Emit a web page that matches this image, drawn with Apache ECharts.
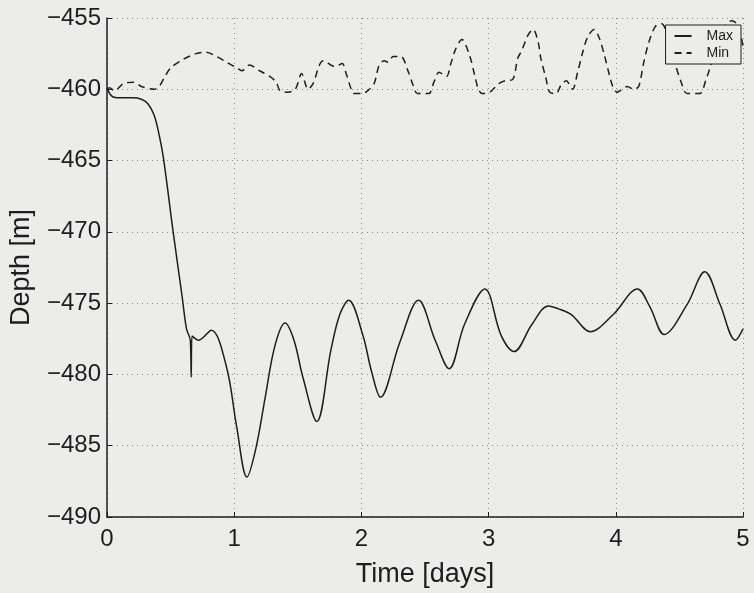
<!DOCTYPE html>
<html>
<head>
<meta charset="utf-8">
<script src="https://cdn.jsdelivr.net/npm/echarts@6/dist/echarts.min.js"></script>
<style>
html,body{margin:0;padding:0;background:#ececea;}
#chart{width:754px;height:593px;}
</style>
</head>
<body>
<div id="chart"></div>
<script>
// ---- data ----
const xTicks = [0, 1, 2, 3, 4, 5];
const yTicks = [-490, -485, -480, -475, -470, -465, -460, -455];
const seriesNames = ['Max', 'Min'];

const maxTime = [0, 0.04, 0.1, 0.2, 0.27, 0.32, 0.37, 0.41, 0.445, 0.52, 0.59, 0.625, 0.655, 0.662, 0.668, 0.72, 0.82, 0.94, 1.02, 1.10, 1.17, 1.24, 1.32, 1.40, 1.47, 1.54, 1.65, 1.76, 1.83, 1.90, 2.01, 2.08, 2.15, 2.30, 2.45, 2.58, 2.69, 2.81, 2.97, 3.10, 3.20, 3.34, 3.47, 3.55, 3.65, 3.80, 3.98, 4.17, 4.27, 4.38, 4.56, 4.70, 4.82, 4.94, 5.0];
const maxDepth = [-459.9, -460.5, -460.6, -460.6, -460.7, -461.0, -461.8, -463.2, -464.9, -470.0, -474.5, -476.8, -477.6, -480.2, -477.3, -477.6, -476.9, -479.5, -483.7, -487.2, -485.2, -481.8, -478.0, -476.4, -477.6, -480.2, -483.3, -478.3, -475.8, -474.8, -477.2, -479.8, -481.6, -477.8, -474.8, -477.6, -479.6, -476.5, -474.0, -477.3, -478.4, -476.5, -475.2, -475.4, -475.8, -477.0, -475.8, -474.0, -475.3, -477.2, -475.1, -472.8, -475.1, -477.6, -476.8];

const minTime = [0, 0.02, 0.06, 0.13, 0.21, 0.27, 0.37, 0.41, 0.45, 0.50, 0.60, 0.70, 0.78, 0.86, 0.94, 1.02, 1.06, 1.12, 1.20, 1.28, 1.33, 1.36, 1.42, 1.48, 1.53, 1.58, 1.62, 1.67, 1.70, 1.76, 1.79, 1.85, 1.88, 1.92, 1.94, 2.01, 2.05, 2.10, 2.14, 2.18, 2.21, 2.25, 2.31, 2.37, 2.41, 2.44, 2.53, 2.57, 2.61, 2.67, 2.70, 2.74, 2.79, 2.85, 2.89, 2.92, 2.95, 3.01, 3.08, 3.13, 3.19, 3.23, 3.26, 3.31, 3.35, 3.39, 3.41, 3.45, 3.48, 3.53, 3.57, 3.61, 3.66, 3.70, 3.74, 3.78, 3.83, 3.87, 3.91, 3.95, 3.98, 4.01, 4.05, 4.09, 4.14, 4.18, 4.22, 4.26, 4.31, 4.36, 4.42, 4.47, 4.51, 4.56, 4.66, 4.71, 4.74, 4.80, 4.86, 4.91, 4.96, 5.0];
const minDepth = [-460.0, -459.9, -460.1, -459.6, -459.5, -459.8, -460.0, -459.8, -459.2, -458.5, -457.9, -457.5, -457.4, -457.7, -458.1, -458.5, -458.7, -458.3, -458.7, -459.1, -459.5, -460.1, -460.2, -460.0, -458.9, -460.0, -459.6, -458.3, -458.0, -458.3, -458.4, -458.2, -458.9, -460.0, -460.3, -460.3, -460.1, -459.6, -458.3, -458.0, -458.1, -457.7, -457.7, -458.8, -459.8, -460.3, -460.3, -459.5, -458.8, -459.1, -458.3, -457.2, -456.5, -457.6, -459.0, -460.0, -460.3, -460.2, -459.6, -459.4, -459.3, -457.8, -457.3, -456.2, -455.8, -456.7, -457.8, -459.2, -460.2, -460.3, -459.7, -459.4, -460.0, -458.8, -457.4, -456.3, -455.8, -456.4, -457.6, -459.0, -459.9, -460.2, -460.0, -459.8, -460.0, -459.8, -458.1, -456.7, -455.6, -455.4, -456.6, -458.3, -459.4, -460.3, -460.3, -459.3, -458.5, -456.6, -455.5, -455.2, -455.5, -457.0];

// ---- chart ----
const pairs = (xs, ys) => xs.map((x, i) => [x, ys[i]]);
const minus = v => String(v).replace('-', '\u2212');
const FONT = "'Liberation Sans', Arial, Helvetica, sans-serif";
const INK = '#1e1e1e';
const BG = '#ececea';

const chart = echarts.init(document.getElementById('chart'), null, {renderer: 'canvas'});
chart.setOption({
  backgroundColor: BG,
  animation: false,
  textStyle: {fontFamily: FONT, color: INK},
  grid: {left: 103, right: 11, top: 18, bottom: 72, containLabel: false},
  legend: {
    data: seriesNames,
    orient: 'vertical',
    right: 13,
    top: 25,
    itemWidth: 17,
    itemHeight: 12,
    itemGap: 3,
    padding: [4, 8, 4, 8],
    borderColor: INK,
    borderWidth: 1,
    backgroundColor: BG,
    itemStyle: {color: 'rgba(0,0,0,0)', borderColor: 'rgba(0,0,0,0)', borderWidth: 0},
    textStyle: {fontFamily: FONT, fontSize: 14, color: INK, padding: [0, 0, 0, 10]}
  },
  xAxis: {
    type: 'value',
    min: xTicks[0],
    max: xTicks[xTicks.length - 1],
    interval: 1,
    name: 'Time [days]',
    nameLocation: 'middle',
    nameGap: 44,
    nameTextStyle: {fontFamily: FONT, fontSize: 27, color: INK},
    axisLine: {show: true, lineStyle: {color: INK, width: 1.5}},
    axisTick: {show: true, inside: true, length: 5, lineStyle: {color: INK}},
    axisLabel: {fontFamily: FONT, fontSize: 24, color: INK, margin: 10, formatter: minus},
    splitLine: {show: true, lineStyle: {color: '#8a8a8a', type: [1, 4], width: 1}}
  },
  yAxis: {
    type: 'value',
    min: yTicks[0],
    max: yTicks[yTicks.length - 1],
    interval: 5,
    name: 'Depth [m]',
    nameLocation: 'middle',
    nameGap: 72,
    nameTextStyle: {fontFamily: FONT, fontSize: 27, color: INK},
    axisLine: {show: true, onZero: false, lineStyle: {color: INK, width: 1.5}},
    axisTick: {show: true, inside: true, length: 5, lineStyle: {color: INK}},
    axisLabel: {fontFamily: FONT, fontSize: 24, color: INK, margin: 6, formatter: minus},
    splitLine: {show: true, lineStyle: {color: '#8a8a8a', type: [1, 4], width: 1}}
  },
  series: [
    {
      name: seriesNames[0],
      type: 'line',
      data: pairs(maxTime, maxDepth),
      showSymbol: false,
      symbol: 'none',
      smooth: 0.35,
      lineStyle: {color: INK, width: 1.5},
      itemStyle: {color: INK},
      clip: true
    },
    {
      name: seriesNames[1],
      type: 'line',
      data: pairs(minTime, minDepth),
      showSymbol: false,
      symbol: 'none',
      smooth: 0.3,
      lineStyle: {color: INK, width: 1.5, type: [7, 5]},
      itemStyle: {color: INK},
      clip: true
    }
  ]
});
</script>
</body>
</html>
